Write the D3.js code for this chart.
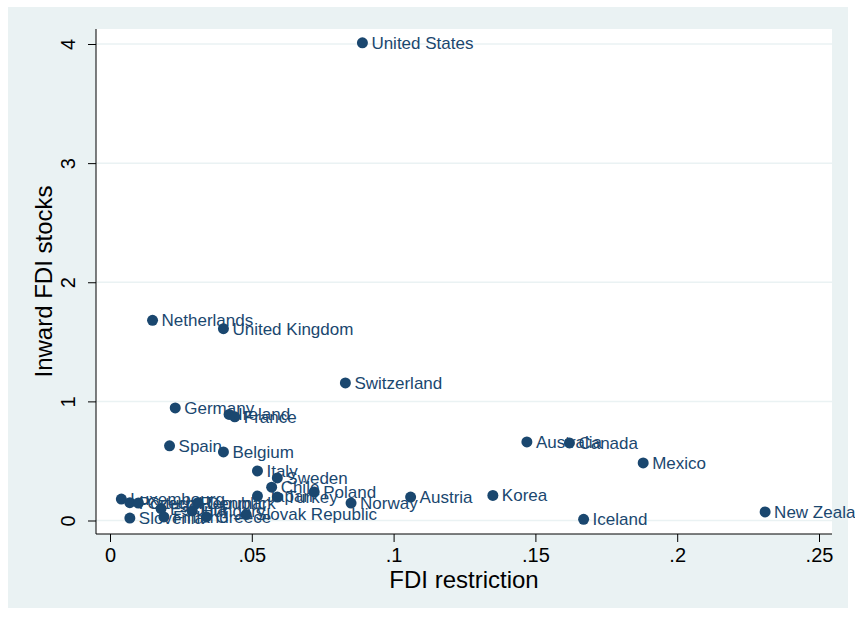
<!DOCTYPE html>
<html>
<head>
<meta charset="utf-8">
<script src="https://cdn.jsdelivr.net/npm/d3@7"></script>
<style>
  body { margin: 0; background: #fff; }
  text { font-family: "Liberation Sans", Arial, sans-serif; }
</style>
</head>
<body>
<div id="chart"></div>
<script>
const width = 855;
const height = 617;

const countries = ["United States", "Netherlands", "United Kingdom", "Switzerland", "Germany",
    "Ireland", "France", "Spain", "Belgium", "Australia", "Canada", "Mexico", "Italy", "Sweden",
    "Chile", "Poland", "Japan", "Turkey", "Norway", "Austria", "Korea", "Iceland", "New Zealand",
    "Slovak Republic", "Luxembourg", "Portugal", "Czech Republic", "Slovenia", "Estonia",
    "Finland", "Hungary", "Denmark", "Greece"];
const fdiRestriction = [0.089, 0.015, 0.040, 0.083, 0.023,
    0.042, 0.044, 0.021, 0.040, 0.147, 0.162, 0.188, 0.052, 0.059,
    0.057, 0.072, 0.052, 0.059, 0.085, 0.106, 0.135, 0.167, 0.231,
    0.048, 0.004, 0.007, 0.010, 0.007, 0.018,
    0.019, 0.029, 0.031, 0.034];
const fdiStocks = [4.01, 1.68, 1.61, 1.155, 0.945,
    0.89, 0.87, 0.627, 0.576, 0.66, 0.651, 0.483, 0.416, 0.357,
    0.28, 0.24, 0.205, 0.197, 0.146, 0.197, 0.21, 0.01, 0.072,
    0.05, 0.18, 0.15, 0.147, 0.02, 0.10,
    0.03, 0.08, 0.15, 0.03];

const xTicks = [0, 0.05, 0.1, 0.15, 0.2, 0.25];
const xTickLabels = ["0", ".05", ".1", ".15", ".2", ".25"];
const yTicks = [0, 1, 2, 3, 4];

const navy = "#1a476f";
const plot = { left: 96, right: 832, top: 29, bottom: 534 };

const x = d3.scaleLinear().domain([0, 0.25]).range([110, 819]);
const y = d3.scaleLinear().domain([0, 4]).range([520.5, 44]);

const svg = d3.select("#chart").append("svg")
    .attr("width", width)
    .attr("height", height);

// outer graph region
svg.append("rect")
    .attr("x", 8).attr("y", 7)
    .attr("width", 840).attr("height", 601)
    .attr("fill", "#eaf2f3");

// plot region
svg.append("rect")
    .attr("x", plot.left).attr("y", plot.top)
    .attr("width", plot.right - plot.left).attr("height", plot.bottom - plot.top)
    .attr("fill", "#fff");

// grid lines
svg.append("g")
    .selectAll("line")
    .data(yTicks)
    .join("line")
    .attr("x1", plot.left).attr("x2", plot.right)
    .attr("y1", d => y(d)).attr("y2", d => y(d))
    .attr("stroke", "#eaf2f3")
    .attr("stroke-width", 1.5);

// y axis
const yAxis = svg.append("g")
    .attr("transform", `translate(${plot.left},0)`)
    .call(d3.axisLeft(y).tickValues(yTicks).tickSize(8).tickPadding(0).tickFormat(d3.format("d")));
yAxis.select(".domain").remove();
yAxis.selectAll("line").attr("stroke", "#000");
yAxis.selectAll("text")
    .attr("x", null).attr("dy", null)
    .attr("transform", "translate(-21,0) rotate(-90)")
    .attr("text-anchor", "middle")
    .attr("fill", "#000")
    .style("font-size", "20px")
    .style("font-family", "Liberation Sans, Arial, sans-serif");
svg.append("line")
    .attr("x1", plot.left).attr("x2", plot.left)
    .attr("y1", plot.top).attr("y2", plot.bottom)
    .attr("stroke", "#000");

// x axis
const xAxis = svg.append("g")
    .attr("transform", `translate(0,${plot.bottom})`)
    .call(d3.axisBottom(x).tickValues(xTicks).tickSize(8).tickPadding(6)
        .tickFormat((d, i) => xTickLabels[i]));
xAxis.select(".domain").remove();
xAxis.selectAll("line").attr("stroke", "#000");
xAxis.selectAll("text")
    .attr("fill", "#000")
    .style("font-size", "20px")
    .style("font-family", "Liberation Sans, Arial, sans-serif");
svg.append("line")
    .attr("x1", plot.left).attr("x2", plot.right)
    .attr("y1", plot.bottom).attr("y2", plot.bottom)
    .attr("stroke", "#000");

// axis titles
svg.append("text")
    .attr("x", (plot.left + plot.right) / 2)
    .attr("y", 588)
    .attr("text-anchor", "middle")
    .style("font-size", "24px")
    .text("FDI restriction");

svg.append("text")
    .attr("transform", `translate(52,${(plot.top + plot.bottom) / 2}) rotate(-90)`)
    .attr("text-anchor", "middle")
    .style("font-size", "24px")
    .text("Inward FDI stocks");

// points
const points = countries.map((c, i) => ({ name: c, fx: fdiRestriction[i], fs: fdiStocks[i] }));

svg.append("g")
    .selectAll("circle")
    .data(points)
    .join("circle")
    .attr("cx", d => x(d.fx))
    .attr("cy", d => y(d.fs))
    .attr("r", 5.5)
    .attr("fill", navy);

svg.append("g")
    .selectAll("text")
    .data(points)
    .join("text")
    .attr("x", d => x(d.fx) + 9)
    .attr("y", d => y(d.fs))
    .attr("dy", "0.35em")
    .attr("fill", navy)
    .style("font-size", "17px")
    .text(d => d.name);
</script>
</body>
</html>
